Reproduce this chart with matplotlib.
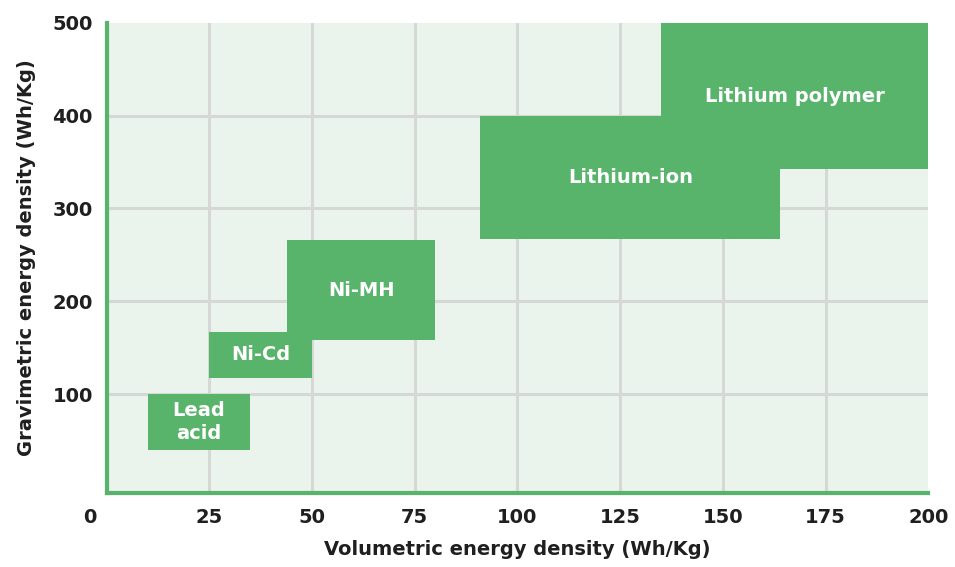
import matplotlib
matplotlib.use("Agg")
import matplotlib.pyplot as plt
from matplotlib.patches import Rectangle
import matplotlib.transforms as mtransforms

# Data
batteries = ["Lead\nacid", "Ni-Cd", "Ni-MH", "Lithium-ion", "Lithium polymer"]
vol_min = [10, 25, 44, 91, 135]
vol_max = [35, 50, 80, 164, 200]
grav_min = [40, 118, 158, 267, 342]
grav_max = [100, 167, 266, 400, 500]
x_ticks = [0, 25, 50, 75, 100, 125, 150, 175, 200]
y_ticks = [100, 200, 300, 400, 500]

GREEN = "#58b36b"
BG = "#eaf3ec"
GRID = "#d6d8d6"
TEXT = "#1f1f1f"

fig = plt.figure(figsize=(9.55, 5.67), dpi=100)
ax = fig.add_axes([0.1117, 0.131, 0.8603, 0.829])
ax.set_facecolor(BG)
ax.set_xlim(0, 200)
ax.set_ylim(-6, 500)

ax.set_xticks(x_ticks)
ax.set_yticks(y_ticks)
ax.grid(True, color=GRID, linewidth=2.2, zorder=0)
ax.set_axisbelow(True)
ax.get_ygridlines()[-1].set_visible(False)
ax.get_xgridlines()[-1].set_visible(False)

for s in ["top", "right"]:
    ax.spines[s].set_visible(False)
for s in ["left", "bottom"]:
    ax.spines[s].set_color(GREEN)
    ax.spines[s].set_linewidth(3)
    ax.spines[s].set_zorder(5)

ax.tick_params(length=0, labelsize=14, colors=TEXT)
ax.tick_params(axis="x", pad=11)
ax.tick_params(axis="y", pad=10)
for lab in ax.get_xticklabels() + ax.get_yticklabels():
    lab.set_fontweight("bold")

# shift the "0" label slightly left like the reference
xl = ax.get_xticklabels()
offset = mtransforms.ScaledTranslation(-17 / 100, 0, fig.dpi_scale_trans)
xl[0].set_transform(xl[0].get_transform() + offset)

for name, x0, x1, y0, y1 in zip(batteries, vol_min, vol_max, grav_min, grav_max):
    ax.add_patch(Rectangle((x0, y0), x1 - x0, y1 - y0, facecolor=GREEN,
                           edgecolor="none", zorder=3, clip_on=True))
    ax.text((x0 + x1) / 2, (y0 + y1) / 2, name, ha="center", va="center",
            color="white", fontsize=14, fontweight="bold", zorder=4,
            linespacing=1.25)

ax.set_xlabel("Volumetric energy density (Wh/Kg)", fontsize=14,
              color=TEXT, labelpad=9, fontweight="bold")
ax.set_ylabel("Gravimetric energy density (Wh/Kg)", fontsize=14,
              color=TEXT, labelpad=12, fontweight="bold")

fig.savefig("out.png", dpi=100, facecolor="white")
